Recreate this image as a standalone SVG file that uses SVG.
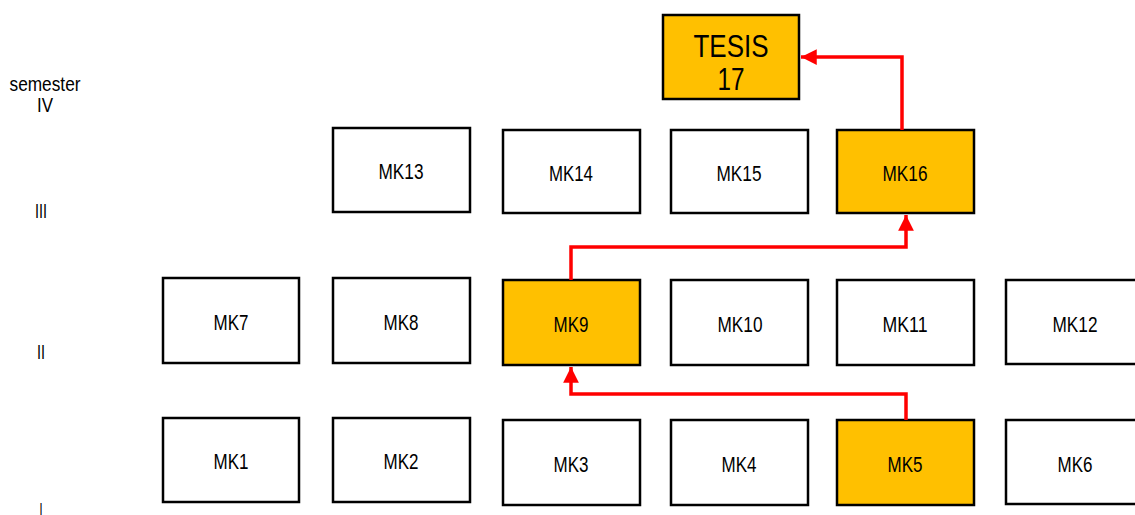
<svg xmlns="http://www.w3.org/2000/svg" width="1135" height="515" viewBox="0 0 1135 515">
<style>
.box{fill:#fff;stroke:#000;stroke-width:2.5}
.hl{fill:#FFC000;stroke:#000;stroke-width:2.5}
.lbl{font-family:"Liberation Sans",Arial,sans-serif;font-size:22px;fill:#000;text-anchor:middle}
.big{font-family:"Liberation Sans",Arial,sans-serif;font-size:32px;fill:#000;text-anchor:middle}
.sem{font-family:"Liberation Sans",Arial,sans-serif;font-size:21px;fill:#000;text-anchor:middle}
.con{fill:none;stroke:#FF0000;stroke-width:3.5}
</style>
<defs>
<marker id="ah" viewBox="0 0 10 10" refX="10" refY="5" markerWidth="4.5" markerHeight="4.5" markerUnits="strokeWidth" orient="auto">
<path d="M0,0 L10,5 L0,10 Z" fill="#FF0000"/>
</marker>
</defs>
<g id="semesters">
<text class="sem" x="45" y="91" textLength="71" lengthAdjust="spacingAndGlyphs">semester</text>
<text class="sem" x="45" y="112" textLength="16" lengthAdjust="spacingAndGlyphs">IV</text>
<text class="sem" x="41" y="218" textLength="12" lengthAdjust="spacingAndGlyphs">III</text>
<text class="sem" x="41" y="359" textLength="8" lengthAdjust="spacingAndGlyphs">II</text>
<text class="sem" x="41" y="517" textLength="3" lengthAdjust="spacingAndGlyphs">I</text>
</g>
<g id="tesis"><rect class="hl" x="663" y="15" width="136" height="84"/><text class="big" x="731" y="57" textLength="75" lengthAdjust="spacingAndGlyphs">TESIS</text><text class="big" x="731" y="90" textLength="27" lengthAdjust="spacingAndGlyphs">17</text></g>
<g id="mk13"><rect class="box" x="333" y="128" width="137" height="84"/><text class="lbl" x="401" y="179" textLength="45" lengthAdjust="spacingAndGlyphs">MK13</text></g>
<g id="mk14"><rect class="box" x="503" y="130" width="137" height="83"/><text class="lbl" x="571" y="181" textLength="44" lengthAdjust="spacingAndGlyphs">MK14</text></g>
<g id="mk15"><rect class="box" x="671" y="130" width="137" height="83"/><text class="lbl" x="739" y="181" textLength="45" lengthAdjust="spacingAndGlyphs">MK15</text></g>
<g id="mk16"><rect class="hl" x="837" y="130" width="137" height="83"/><text class="lbl" x="905" y="181" textLength="45" lengthAdjust="spacingAndGlyphs">MK16</text></g>
<g id="mk7"><rect class="box" x="163" y="278" width="136" height="85"/><text class="lbl" x="231" y="330" textLength="35" lengthAdjust="spacingAndGlyphs">MK7</text></g>
<g id="mk8"><rect class="box" x="333" y="278" width="137" height="85"/><text class="lbl" x="401" y="330" textLength="35" lengthAdjust="spacingAndGlyphs">MK8</text></g>
<g id="mk9"><rect class="hl" x="503" y="280" width="137" height="85"/><text class="lbl" x="571" y="332" textLength="35" lengthAdjust="spacingAndGlyphs">MK9</text></g>
<g id="mk10"><rect class="box" x="671" y="280" width="137" height="85"/><text class="lbl" x="740" y="332" textLength="45" lengthAdjust="spacingAndGlyphs">MK10</text></g>
<g id="mk11"><rect class="box" x="837" y="280" width="137" height="85"/><text class="lbl" x="905" y="332" textLength="45" lengthAdjust="spacingAndGlyphs">MK11</text></g>
<g id="mk12"><rect class="box" x="1006" y="280" width="137" height="84"/><text class="lbl" x="1075" y="332" textLength="45" lengthAdjust="spacingAndGlyphs">MK12</text></g>
<g id="mk1"><rect class="box" x="163" y="418" width="136" height="84"/><text class="lbl" x="231" y="469" textLength="35" lengthAdjust="spacingAndGlyphs">MK1</text></g>
<g id="mk2"><rect class="box" x="333" y="418" width="137" height="84"/><text class="lbl" x="401" y="469" textLength="35" lengthAdjust="spacingAndGlyphs">MK2</text></g>
<g id="mk3"><rect class="box" x="503" y="420" width="137" height="85"/><text class="lbl" x="571" y="472" textLength="35" lengthAdjust="spacingAndGlyphs">MK3</text></g>
<g id="mk4"><rect class="box" x="671" y="420" width="137" height="85"/><text class="lbl" x="739" y="472" textLength="35" lengthAdjust="spacingAndGlyphs">MK4</text></g>
<g id="mk5"><rect class="hl" x="837" y="420" width="137" height="85"/><text class="lbl" x="905" y="472" textLength="35" lengthAdjust="spacingAndGlyphs">MK5</text></g>
<g id="mk6"><rect class="box" x="1006" y="420" width="137" height="84"/><text class="lbl" x="1075" y="472" textLength="35" lengthAdjust="spacingAndGlyphs">MK6</text></g>
<g id="connectors">
<path class="con" d="M906,420 V394 H571 V367" marker-end="url(#ah)"/>
<path class="con" d="M571,280 V247 H906 V215" marker-end="url(#ah)"/>
<path class="con" d="M902,130 V57 H801" marker-end="url(#ah)"/>
</g>
</svg>
